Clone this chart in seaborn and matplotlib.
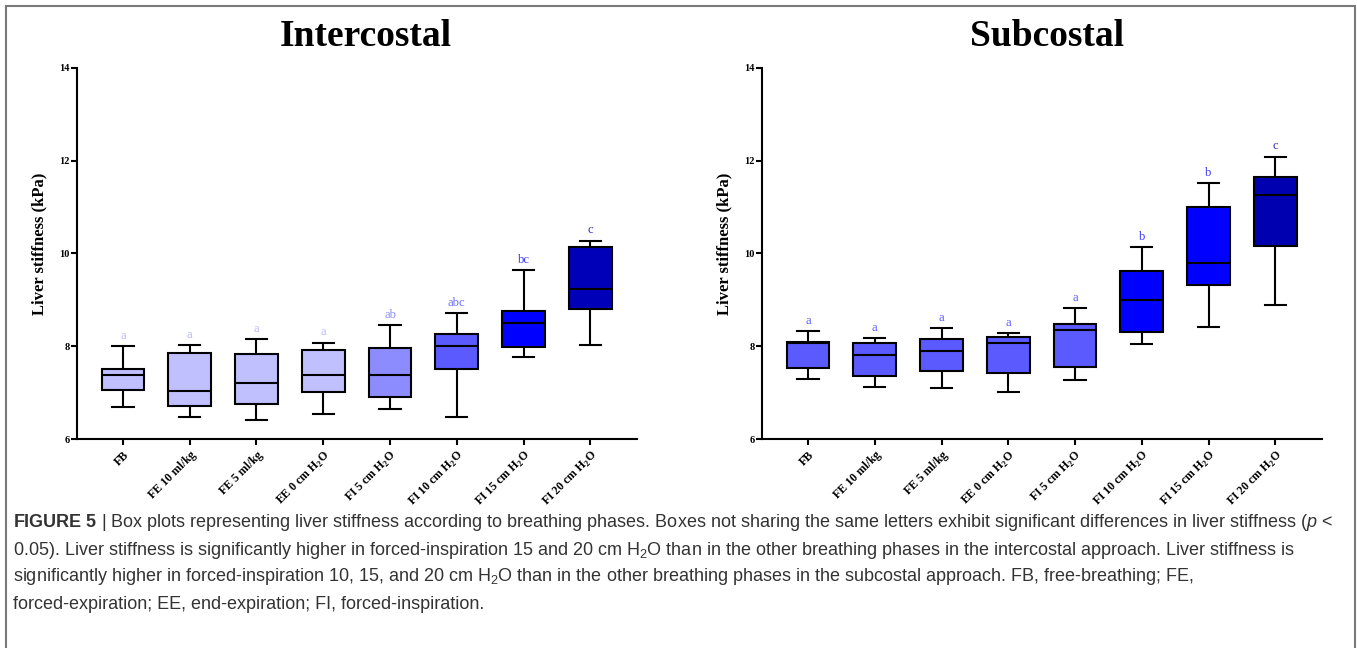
import numpy as np
import pandas as pd
import matplotlib
matplotlib.use("Agg")
import matplotlib.pyplot as plt
import seaborn as sns
from matplotlib.patches import Rectangle

# breathing phases (x categories)
phases = ["FB", "FE 10 ml/kg", "FE 5 ml/kg", "EE 0 cm H$_\\mathrm{2}$O", "FI 5 cm H$_\\mathrm{2}$O",
          "FI 10 cm H$_\\mathrm{2}$O", "FI 15 cm H$_\\mathrm{2}$O", "FI 20 cm H$_\\mathrm{2}$O"]

# Intercostal: five number summaries (kPa)
inter_low = [6.70, 6.48, 6.41, 6.54, 6.65, 6.48, 7.77, 8.03]
inter_q1 = [7.06, 6.71, 6.76, 7.01, 6.91, 7.51, 7.99, 8.80]
inter_med = [7.37, 7.04, 7.21, 7.39, 7.37, 8.01, 8.50, 9.23]
inter_q3 = [7.52, 7.85, 7.83, 7.92, 7.97, 8.26, 8.77, 10.13]
inter_high = [8.00, 8.03, 8.16, 8.08, 8.45, 8.72, 9.64, 10.28]
inter_letters = ["a", "a", "a", "a", "ab", "abc", "bc", "c"]

# Subcostal
sub_low = [7.30, 7.12, 7.10, 7.02, 7.28, 8.04, 8.42, 8.90]
sub_q1 = [7.53, 7.36, 7.46, 7.43, 7.55, 8.30, 9.32, 10.17]
sub_med = [8.07, 7.81, 7.90, 8.06, 8.35, 8.99, 9.80, 11.27]
sub_q3 = [8.10, 8.06, 8.15, 8.19, 8.49, 9.63, 11.01, 11.64]
sub_high = [8.32, 8.18, 8.39, 8.29, 8.82, 10.13, 11.51, 12.09]
sub_letters = ["a", "a", "a", "a", "a", "b", "b", "c"]

inter_colors = ["#c0c0ff", "#c0c0ff", "#c0c0ff", "#c0c0ff", "#8c8cff", "#5a5aff", "#0000ff", "#0000b8"]
inter_letter_colors = ["#b8b8ff", "#b8b8ff", "#b8b8ff", "#b8b8ff", "#8c8cff", "#6a6aff", "#3c3cff", "#2a2ad0"]
sub_colors = ["#5a5aff"] * 5 + ["#0000ff", "#0000ff", "#0000b0"]
sub_letter_colors = ["#5a5aff"] * 5 + ["#3c3cff", "#3c3cff", "#2a2ad0"]

plt.rcParams["font.family"] = ["Liberation Serif", "DejaVu Serif"]
plt.rcParams["mathtext.fontset"] = "custom"
plt.rcParams["mathtext.rm"] = "Liberation Serif:bold"
plt.rcParams["mathtext.sf"] = "Liberation Sans"
plt.rcParams["mathtext.it"] = "Liberation Sans:italic"
plt.rcParams["mathtext.bf"] = "Liberation Sans:bold"


def long_frame(low, q1, med, q3, high):
    rows = []
    for i, ph in enumerate(phases):
        for v in (low[i], q1[i], med[i], q3[i], high[i]):
            rows.append({"phase": ph, "value": v})
    return pd.DataFrame(rows)


def draw_panel(ax, df, colors, letters, letter_colors, high, title, title_x):
    sns.boxplot(data=df, x="phase", y="value", hue="phase", order=phases, hue_order=phases,
                palette=colors, legend=False, saturation=1, width=0.64, whis=(0, 100),
                linecolor="black", linewidth=1.5, ax=ax)
    for i, (lab, col) in enumerate(zip(letters, letter_colors)):
        ax.text(i, high[i] + 0.22, lab, ha="center", va="center", fontsize=9, color=col)

    ax.set_xlim(-0.69, 7.70)
    ax.set_ylim(6, 14)
    ax.set_yticks([6, 8, 10, 12, 14])
    ax.set_xticks(range(len(phases)))
    ax.set_xticklabels(phases, rotation=45, ha="right", rotation_mode="anchor",
                       fontsize=8.5, fontweight="bold")
    for lab in ax.get_yticklabels():
        lab.set_fontweight("bold")
        lab.set_fontsize(7.5)
    ax.tick_params(axis="both", length=4, width=1.5, direction="out", pad=1)
    ax.tick_params(axis="x", pad=3)
    ax.set_xlabel("")
    ax.set_ylabel("Liver stiffness (kPa)", fontsize=12, fontweight="bold")
    ax.yaxis.set_label_coords(-0.053, 0.525)
    for side in ["top", "right"]:
        ax.spines[side].set_visible(False)
    for side in ["left", "bottom"]:
        ax.spines[side].set_linewidth(1.5)
    ax.set_facecolor("white")
    fig.text(title_x, 0.943, title, ha="center", va="center", fontsize=27, fontweight="bold")


fig = plt.figure(figsize=(13.57, 6.48), dpi=100)
ax1 = fig.add_axes([0.0567, 0.3225, 0.4127, 0.5726])
ax2 = fig.add_axes([0.5615, 0.3225, 0.4127, 0.5726])

inter_df = long_frame(inter_low, inter_q1, inter_med, inter_q3, inter_high)
sub_df = long_frame(sub_low, sub_q1, sub_med, sub_q3, sub_high)

draw_panel(ax1, inter_df, inter_colors, inter_letters, inter_letter_colors, inter_high,
           "Intercostal", 0.2697)
draw_panel(ax2, sub_df, sub_colors, sub_letters, sub_letter_colors, sub_high,
           "Subcostal", 0.7716)

# outer frame of the figure panel
fig.patches.append(Rectangle((6 / 1357, -0.05), 1349 / 1357, 1.05 - 6 / 648,
                             transform=fig.transFigure, fill=False, edgecolor="#7a7a7a",
                             linewidth=1.5))

caption = [
    r"$\mathbf{FIGURE\ 5}$ | Box plots representing liver stiffness according to breathing phases. "
    r"Boxes not sharing the same letters exhibit significant differences in liver stiffness ($\mathit{p}$ <",
    r"0.05). Liver stiffness is significantly higher in forced-inspiration 15 and 20 cm H$_\mathsf{2}$O "
    r"than in the other breathing phases in the intercostal approach. Liver stiffness is",
    r"significantly higher in forced-inspiration 10, 15, and 20 cm H$_\mathsf{2}$O than in the other "
    r"breathing phases in the subcostal approach. FB, free-breathing; FE,",
    r"forced-expiration; EE, end-expiration; FI, forced-inspiration.",
]
cap_y = [0.1944, 0.1512, 0.1096, 0.0679]
for line, y in zip(caption, cap_y):
    fig.text(0.0096, y, line, ha="left", va="center", fontsize=13,
             family="Liberation Sans", color="#333333")

fig.savefig("out.png", dpi=100, facecolor="white")
